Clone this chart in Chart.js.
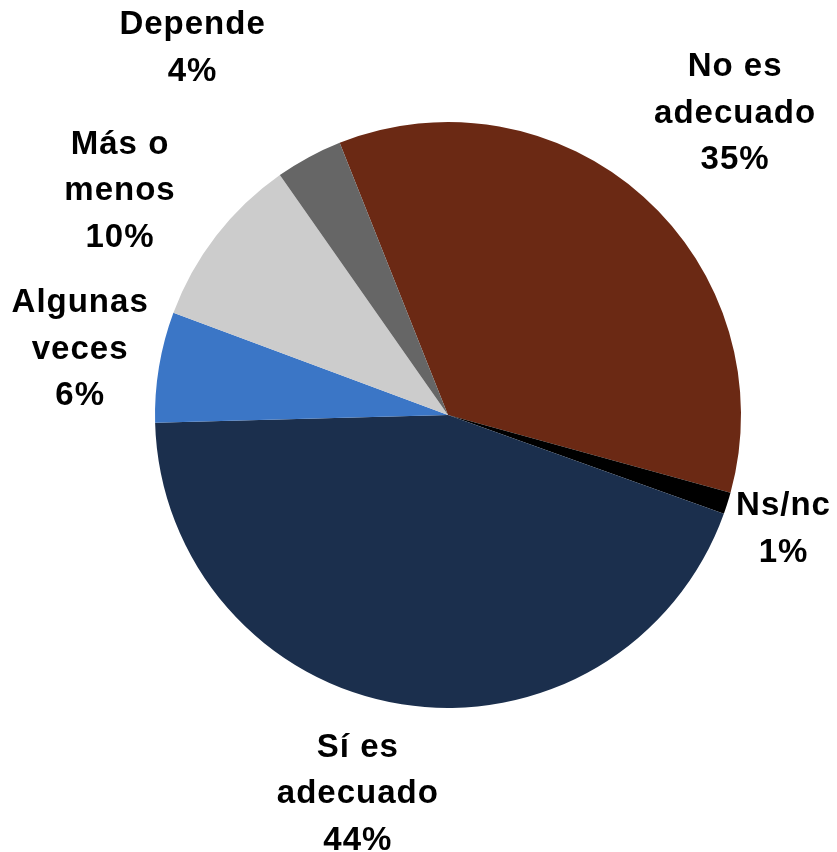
<!DOCTYPE html>
<html>
<head>
<meta charset="utf-8">
<script src="https://cdn.jsdelivr.net/npm/chart.js@4"></script>
<style>
  html, body { margin: 0; padding: 0; background: #ffffff; }
  #wrap { width: 837px; height: 852px; }
</style>
</head>
<body>
<div id="wrap"><canvas id="pieChart" width="837" height="852"></canvas></div>
<script>
// Data (clockwise from the top-left boundary)
const categories = ['No es adecuado', 'Ns/nc', 'Sí es adecuado', 'Algunas veces', 'Más o menos', 'Depende'];
const labelLines = [
    ['No es', 'adecuado'],
    ['Ns/nc'],
    ['Sí es', 'adecuado'],
    ['Algunas', 'veces'],
    ['Más o', 'menos'],
    ['Depende']
];
const percentages = [35.3, 1.2, 44.1, 6.1, 9.6, 3.7];

const sliceColors = ['#6b2914', '#000000', '#1b2f4d', '#3b76c6', '#cccccc', '#666666'];

// label placement: [distance as fraction of radius, angle tweak in degrees]
const labelPlacement = [
    [1.42, 1.8],
    [1.21, 1.3],
    [1.33, 4.3],
    [1.275, 0.6],
    [1.355, -3.4],
    [1.525, -6.5]
];

const outsideLabels = {
    id: 'outsideLabels',
    afterDatasetsDraw(chart) {
        const ctx = chart.ctx;
        const meta = chart.getDatasetMeta(0);
        ctx.save();
        ctx.font = 'bold 33px "Liberation Sans", Arial, sans-serif';
        ctx.letterSpacing = '1px';
        ctx.fillStyle = '#000000';
        ctx.textAlign = 'center';
        ctx.textBaseline = 'middle';
        const lineH = 46.5;
        meta.data.forEach((arc, i) => {
            const p = arc.getProps(['x', 'y', 'startAngle', 'endAngle', 'outerRadius'], true);
            const mid = (p.startAngle + p.endAngle) / 2 + labelPlacement[i][1] * Math.PI / 180;
            const r = p.outerRadius * labelPlacement[i][0];
            const cx = p.x + Math.cos(mid) * r;
            const cy = p.y + Math.sin(mid) * r;
            const lines = labelLines[i].concat([Math.round(percentages[i]) + '%']);
            const top = cy - (lines.length - 1) * lineH / 2;
            lines.forEach((t, k) => {
                ctx.fillText(t, cx, top + k * lineH);
            });
        });
        ctx.restore();
    }
};

const ctx = document.getElementById('pieChart').getContext('2d');
const chart = new Chart(ctx, {
    type: 'pie',
    data: {
        labels: categories,
        datasets: [{
            data: percentages,
            backgroundColor: sliceColors,
            borderWidth: 0
        }]
    },
    options: {
        responsive: false,
        animation: false,
        rotation: -21.7,
        layout: {
            padding: { left: 155, right: 96, top: 122, bottom: 144 }
        },
        plugins: {
            legend: { display: false },
            tooltip: { enabled: false }
        }
    },
    plugins: [outsideLabels]
});
</script>
</body>
</html>
